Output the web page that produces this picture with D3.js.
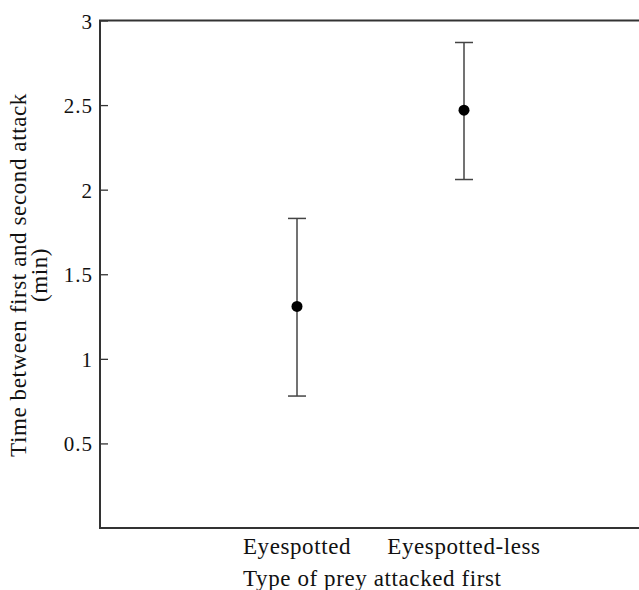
<!DOCTYPE html>
<html>
<head>
<meta charset="utf-8">
<script src="https://cdn.jsdelivr.net/npm/d3@7"></script>
<style>
  body { margin: 0; background: #fff; }
  text { font-family: "Liberation Serif", "Times New Roman", serif; fill: #111; }
</style>
</head>
<body>
<script>
// data
const categories = ["Eyespotted", "Eyespotted-less"];
const means = [1.31, 2.47];
const upper = [1.83, 2.87];
const lower = [0.78, 2.06];
const yTicks = [0.5, 1, 1.5, 2, 2.5, 3];

const width = 639, height = 590;
const margin = {top: 20.5, bottom: 62, left: 100};

const svg = d3.select("body").append("svg")
  .attr("width", width)
  .attr("height", height);

const x = d3.scalePoint()
  .domain(categories)
  .range([297, 464]);

const y = d3.scaleLinear()
  .domain([0, 3])
  .range([height - margin.bottom, margin.top]);

const axisColor = "#333";

// y axis, ticks pointing inward
const yAxis = svg.append("g")
  .attr("transform", `translate(${margin.left},0)`)
  .call(d3.axisRight(y).tickValues(yTicks).tickSize(8).tickFormat(d3.format("")).tickSizeOuter(0));
yAxis.select(".domain").remove();
yAxis.selectAll(".tick line").attr("stroke", axisColor).attr("stroke-width", 1.3);
yAxis.selectAll(".tick text")
  .attr("x", -7)
  .attr("dy", "0.36em")
  .attr("text-anchor", "end")
  .attr("font-size", 21)
  .attr("letter-spacing", 1)
  .attr("fill", "#111")
  .style("font-family", "'Liberation Serif', serif");

// frame: left, bottom, top (open at right, runs off the page)
const x0 = margin.left, x1 = width + 5;
const yTop = y(3), yBot = y(0);
svg.append("path")
  .attr("d", `M${x1},${yTop}H${x0}V${yBot}H${x1}`)
  .attr("fill", "none")
  .attr("stroke", axisColor)
  .attr("stroke-width", 2);

// x category labels
svg.selectAll(".cat")
  .data(categories)
  .enter().append("text")
  .attr("class", "cat")
  .attr("x", d => x(d))
  .attr("y", 554)
  .attr("text-anchor", "middle")
  .attr("font-size", 23)
  .attr("letter-spacing", 0.6)
  .text(d => d);

svg.append("text")
  .attr("x", 243)
  .attr("y", 586)
  .attr("font-size", 23)
  .attr("letter-spacing", 0.6)
  .text("Type of prey attacked first");

// y label, two lines
const yl = svg.append("text")
  .attr("transform", "translate(26,275) rotate(-90)")
  .attr("text-anchor", "middle")
  .attr("font-size", 23)
  .attr("letter-spacing", 0.6);
yl.append("tspan").attr("x", 0).attr("dy", 0).text("Time between first and second attack");
yl.append("tspan").attr("x", 0).attr("dy", 21).text("(min)");

// error bars
const points = categories.map((c, i) => ({cat: c, mean: means[i], hi: upper[i], lo: lower[i]}));
const bars = svg.selectAll(".bar")
  .data(points)
  .enter().append("g")
  .attr("class", "bar");

const cap = 9;
bars.append("line")
  .attr("x1", d => x(d.cat)).attr("x2", d => x(d.cat))
  .attr("y1", d => y(d.hi)).attr("y2", d => y(d.lo))
  .attr("stroke", "#444").attr("stroke-width", 1.5);
bars.append("line")
  .attr("x1", d => x(d.cat) - cap).attr("x2", d => x(d.cat) + cap)
  .attr("y1", d => y(d.hi)).attr("y2", d => y(d.hi))
  .attr("stroke", "#444").attr("stroke-width", 1.5);
bars.append("line")
  .attr("x1", d => x(d.cat) - cap).attr("x2", d => x(d.cat) + cap)
  .attr("y1", d => y(d.lo)).attr("y2", d => y(d.lo))
  .attr("stroke", "#444").attr("stroke-width", 1.5);
bars.append("circle")
  .attr("cx", d => x(d.cat))
  .attr("cy", d => y(d.mean))
  .attr("r", 5.5)
  .attr("fill", "#000");
</script>
</body>
</html>
